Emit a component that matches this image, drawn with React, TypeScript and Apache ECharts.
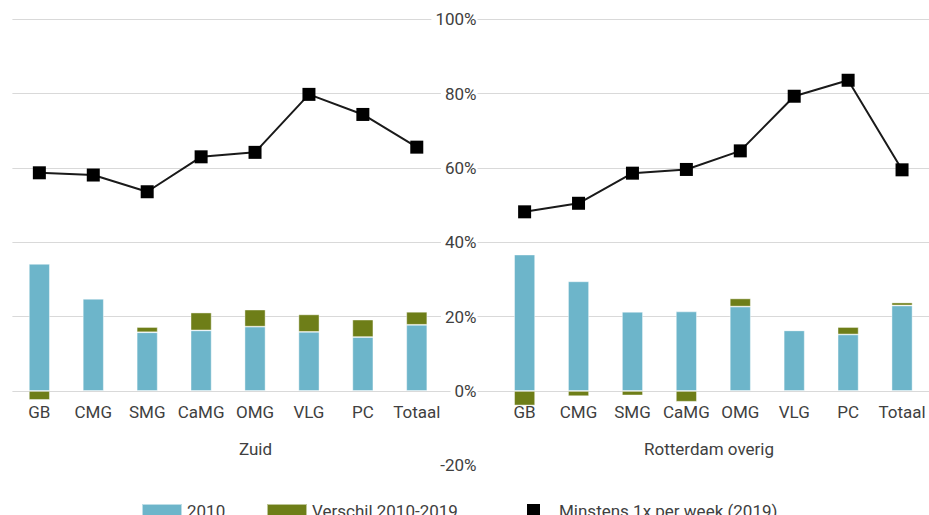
import React, { useEffect, useRef } from "react";
import * as echarts from "echarts";

const categories = ["GB", "CMG", "SMG", "CaMG", "OMG", "VLG", "PC", "Totaal"];
const groups = ["Zuid", "Rotterdam overig"];
const zuid2010 = [34.2, 24.8, 15.8, 16.3, 17.3, 15.9, 14.5, 17.8];
const zuidDiff = [-2.4, 0.2, 1.4, 4.8, 4.6, 4.7, 4.7, 3.5];
const zuidWeekly = [58.7, 58.1, 53.6, 63.0, 64.2, 79.8, 74.4, 65.6];
const rot2010 = [36.7, 29.5, 21.3, 21.4, 22.7, 16.3, 15.2, 23.0];
const rotDiff = [-3.9, -1.4, -1.2, -2.9, 2.2, 0, 2.0, 0.8];
const rotWeekly = [48.2, 50.5, 58.6, 59.6, 64.6, 79.3, 83.6, 59.5];
const seriesNames = ["2010", "Verschil 2010-2019", "Minstens 1x per week (2019)"];
const yMin = -20;
const yMax = 100;
const yStep = 20;

const FONT = "Roboto";
const TXT = "#404040";

export default function App() {
  const ref = useRef<HTMLDivElement>(null);
  useEffect(() => {
    if (!ref.current) return;
    const chart = echarts.init(ref.current, null, { renderer: "svg" });
    const xData = [...categories, "", ...categories];
    const bars2010 = [...zuid2010, null, ...rot2010];
    const barsDiff = [...zuidDiff, null, ...rotDiff];
    const weekly = [...zuidWeekly, null, ...rotWeekly];
    const gridColors = ["rgba(0,0,0,0)", "#d9d9d9", "#d9d9d9", "#d9d9d9", "#d9d9d9", "#d9d9d9", "#d9d9d9"];
    const gridTop = 19.3;
    const gridHeight = 446;
    const zeroOffset = -(gridHeight * (0 - yMin)) / (yMax - yMin);
    const legendBase = {
      top: 502,
      padding: 0,
      itemHeight: 13,
      icon: "rect",
      selectedMode: false,
      textStyle: { fontFamily: FONT, fontSize: 17, color: TXT },
    };
    chart.setOption({
      animation: false,
      textStyle: { fontFamily: FONT },
      grid: { left: 12.4, width: 921.6, top: gridTop, height: gridHeight },
      legend: [
        { ...legendBase, left: 141, itemWidth: 40, data: [seriesNames[0]] },
        { ...legendBase, left: 266, itemWidth: 40, data: [seriesNames[1]] },
        {
          ...legendBase,
          left: 527,
          itemWidth: 13,
          data: [seriesNames[2]],
          textStyle: { ...legendBase.textStyle, padding: [0, 0, 0, 14] },
        },
      ],
      xAxis: {
        type: "category",
        data: xData,
        position: "bottom",
        offset: zeroOffset,
        axisLine: { show: false, onZero: false },
        axisTick: { show: false },
        axisLabel: { interval: 0, margin: 13, fontFamily: FONT, fontSize: 17, color: TXT },
        splitLine: { show: false },
      },
      yAxis: {
        type: "value",
        min: yMin,
        max: yMax,
        interval: yStep,
        position: "left",
        offset: -465.1,
        axisLine: { show: false },
        axisTick: { show: false },
        axisLabel: {
          formatter: "{value}%",
          margin: 0,
          fontFamily: FONT,
          fontSize: 17,
          color: TXT,
          backgroundColor: "#ffffff",
          padding: [1, 1, 1, 4],
        },
        splitLine: { show: true, lineStyle: { color: gridColors, width: 1 } },
      },
      graphic: [
        {
          type: "text",
          x: 255.5,
          y: 448.5,
          style: { text: groups[0], font: `17px ${FONT}`, fill: TXT, align: "center", verticalAlign: "middle" },
        },
        {
          type: "text",
          x: 709,
          y: 448.5,
          style: { text: groups[1], font: `17px ${FONT}`, fill: TXT, align: "center", verticalAlign: "middle" },
        },
      ],
      series: [
        {
          name: seriesNames[0],
          type: "bar",
          stack: "s",
          barWidth: 21,
          data: bars2010,
          itemStyle: { color: "#6db5ca", borderColor: "rgba(255,255,255,0.55)", borderWidth: 0.8 },
        },
        {
          name: seriesNames[1],
          type: "bar",
          stack: "s",
          barWidth: 21,
          data: barsDiff,
          itemStyle: { color: "#6e7e18", borderColor: "rgba(255,255,255,0.55)", borderWidth: 0.8 },
        },
        {
          name: seriesNames[2],
          type: "line",
          data: weekly,
          connectNulls: false,
          symbol: "rect",
          symbolSize: 13,
          itemStyle: { color: "#000000" },
          lineStyle: { color: "#1a1a1a", width: 2 },
          z: 5,
        },
      ],
    });
    return () => chart.dispose();
  }, []);
  return (
    <div
      ref={ref}
      style={{ position: "absolute", left: 0, top: 0, width: 929, height: 515, background: "#fff" }}
    />
  );
}
